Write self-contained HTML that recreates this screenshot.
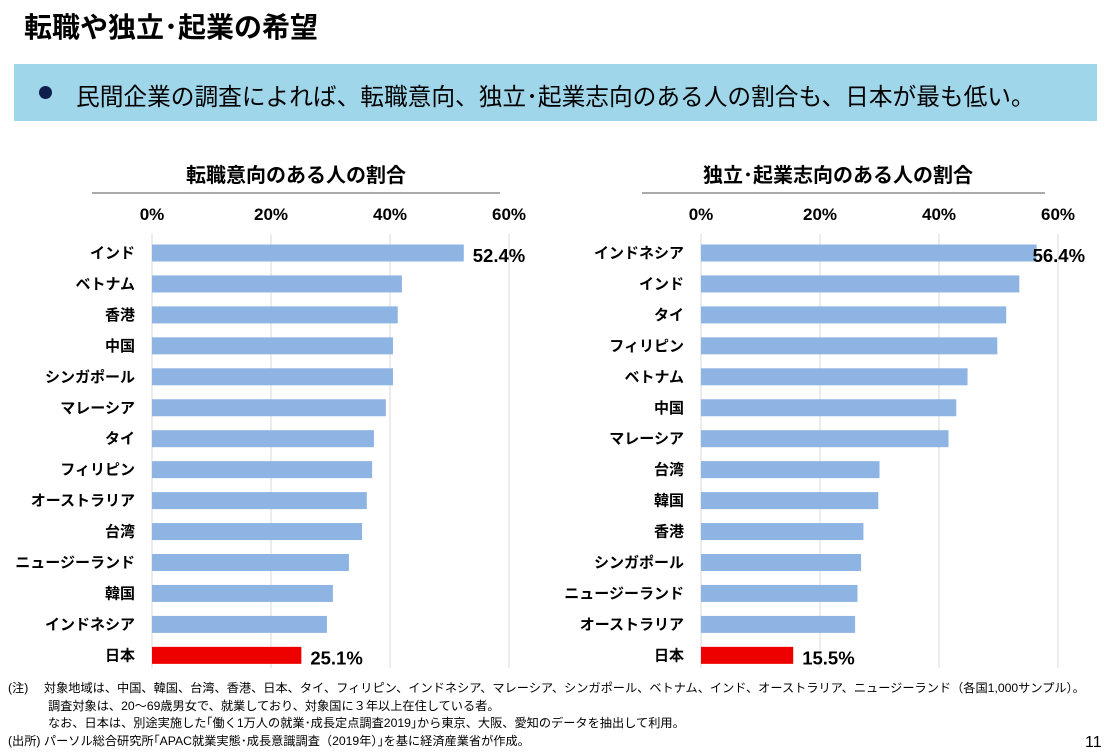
<!DOCTYPE html>
<html><head><meta charset="utf-8">
<style>
body{margin:0;width:1117px;height:756px;background:#fff;font-family:"Liberation Sans","Noto Sans CJK JP",sans-serif;position:relative;overflow:hidden;color:#000}
.abs{position:absolute}
</style></head><body>
<div class="abs" style="left:24px;top:6px;font-size:28px;font-weight:bold;letter-spacing:0px">転職や独立･起業の希望</div>
<div class="abs" style="left:14px;top:64px;width:1083px;height:57px;background:#9fd6ea"></div>
<div class="abs" style="left:39px;top:86px;width:13px;height:13px;border-radius:50%;background:#0f1e4c"></div>
<div class="abs" style="left:76px;top:78px;font-size:23.7px;white-space:nowrap">民間企業の調査によれば、転職意向、独立･起業志向のある人の割合も、日本が最も低い。</div>
<svg class="abs" style="left:0;top:0" width="1117" height="756" id="svg"></svg>
<div class="abs" style="left:8px;top:680px;font-size:12.2px;line-height:17.5px;white-space:pre">(注)　 対象地域は、中国、韓国、台湾、香港、日本、タイ、フィリピン、インドネシア、マレーシア、シンガポール、ベトナム、インド、オーストラリア、ニュージーランド（各国1,000サンプル）。
　　　 調査対象は、20～69歳男女で、就業しており、対象国に３年以上在住している者。
　　　 なお、日本は、別途実施した｢働く1万人の就業･成長定点調査2019｣から東京、大阪、愛知のデータを抽出して利用。
(出所) パーソル総合研究所｢APAC就業実態･成長意識調査（2019年）｣を基に経済産業省が作成。</div>
<div class="abs" style="left:1085px;top:734px;font-size:16px">11</div>
<script>
const leftCats=["インド","ベトナム","香港","中国","シンガポール","マレーシア","タイ","フィリピン","オーストラリア","台湾","ニュージーランド","韓国","インドネシア","日本"];
const leftVals=[52.4,42.0,41.3,40.5,40.5,39.3,37.3,37.0,36.1,35.3,33.1,30.4,29.4,25.1];
const rightCats=["インドネシア","インド","タイ","フィリピン","ベトナム","中国","マレーシア","台湾","韓国","香港","シンガポール","ニュージーランド","オーストラリア","日本"];
const rightVals=[56.4,53.5,51.3,49.8,44.8,42.9,41.6,30.0,29.8,27.3,26.9,26.3,25.9,15.5];
const ticks=[0,20,40,60];
const svg=document.getElementById('svg');
const NS='http://www.w3.org/2000/svg';
function mk(t,a,name){const e=document.createElementNS(NS,t);for(const k in a)e.setAttribute(k,a[k]);


svg.appendChild(e);return e;}
function chart(x0,title,tx,ul0,ul1,cats,vals,pre,topOff){
  const x=v=>x0+v*5.95;
  const y=i=>253+i*30.95;
  const t=mk('text',{x:tx,y:182,'font-size':20,'font-weight':'bold','text-anchor':'middle'},pre+'-title');t.textContent=title;
  mk('line',{x1:ul0,x2:ul1,y1:193,y2:193,stroke:'#555','stroke-width':1},pre+'-title-underline');
  ticks.forEach(v=>{
    mk('line',{x1:x(v),x2:x(v),y1:234,y2:668,stroke:'#d9d9d9','stroke-width':1},pre+'-gridline');
    const l=mk('text',{x:x(v),y:220,'font-size':17,'font-weight':'bold','text-anchor':'middle'},pre+'-x-tick-label');l.textContent=v+'%';
  });
  cats.forEach((c,i)=>{
    const last=i===cats.length-1;
    mk('rect',{x:x(0),y:y(i)-8.5,width:x(vals[i])-x(0),height:17,fill:last?'#ee0000':'#8eb4e3'},pre+'-bar');
    const l=mk('text',{x:x0-17,y:y(i)+5,'font-size':15,'font-weight':'bold','text-anchor':'end'},pre+'-category-label');l.textContent=c;
    if(i===0||last){const v=mk('text',{x:x(vals[i])+(i===0?topOff:9),y:y(i)+9,'font-size':18.5,'font-weight':'bold'},pre+'-value-label');v.textContent=vals[i].toFixed(1)+'%';}
  });
}
chart(152,'転職意向のある人の割合',296,92,500,leftCats,leftVals,'left',9);
chart(701,'独立･起業志向のある人の割合',838,642,1045,rightCats,rightVals,'right',-4);
</script>
</body></html>
